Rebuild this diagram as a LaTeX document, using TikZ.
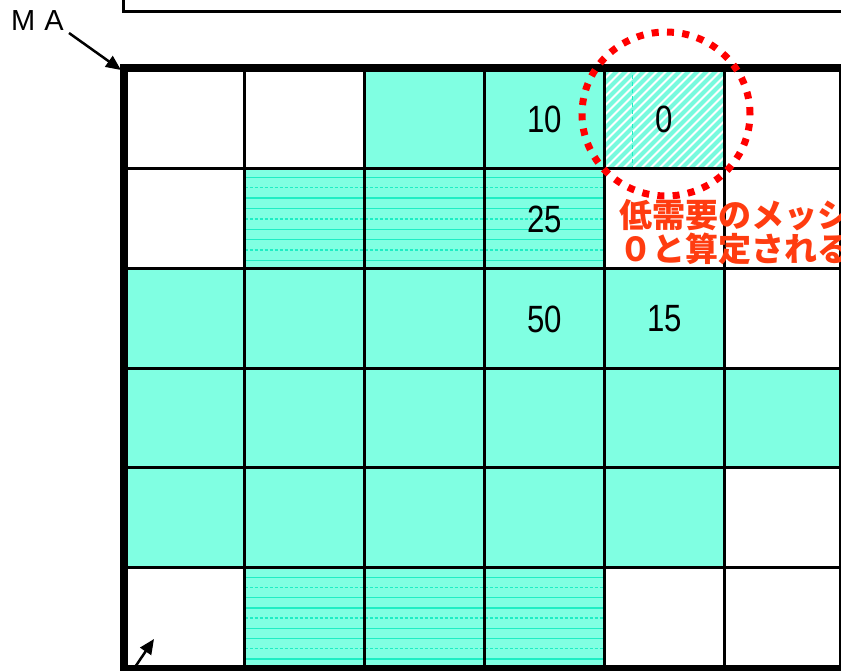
\documentclass[tikz,border=0pt]{standalone}
\usepackage{fontspec}
\newfontfamily\lsans{Liberation Sans}
\newfontfamily\cjkfont{Noto Sans CJK JP}
\usetikzlibrary{arrows.meta}
\definecolor{aqua}{RGB}{128,255,226}
\definecolor{aqualine}{RGB}{30,238,196}
\definecolor{hatchcol}{RGB}{120,250,222}
\definecolor{dotred}{RGB}{255,0,0}
\definecolor{txtred}{RGB}{255,60,16}
\newcommand\numtxt[1]{\scalebox{0.82}[1]{#1}}
\begin{document}
\begin{tikzpicture}[x=1pt,y=-1pt,
  stripe/.style={draw=aqualine,line width=1.4pt},
  stripedash/.style={stripe,dash pattern=on 3pt off 2pt},
  gridline/.style={line width=3pt},
  frameline/.style={line width=8pt},
  num/.style={font=\lsans\fontsize{38}{40}\selectfont, inner sep=0},
  note/.style={text=txtred, font=\cjkfont\bfseries\fontsize{33}{34}\selectfont, anchor=base west, inner sep=0},
  arr/.style={line width=2.5pt, -{Triangle[length=15pt,width=13pt]}},
]
\useasboundingbox (0,0) rectangle (841,670);
\clip (0,0) rectangle (841,670);
\fill[white] (0,0) rectangle (841,670);

% cell fills
\fill[aqua] (364,68) rectangle (604.5,168.3);
\fill[aqua] (244.5,168.3) rectangle (604.5,268.3);
\fill[aqua] (124,268.3) rectangle (724.5,567.3);
\fill[aqua] (724.5,368.3) rectangle (843,467.7);
\fill[aqua] (244.5,567.3) rectangle (604.5,669);

% horizontal stripes in the striped cells
\foreach \i in {0,2,3,5,6,8}{
  \draw[stripe] (244.5,{177.3+10.4*\i}) -- (604.5,{177.3+10.4*\i});
  \draw[stripe] (244.5,{577.3+10.2*\i}) -- (604.5,{577.3+10.2*\i});
}
\foreach \i in {1,4,7}{
  \draw[stripedash] (244.5,{177.3+10.4*\i}) -- (604.5,{177.3+10.4*\i});
  \draw[stripedash] (244.5,{577.3+10.2*\i}) -- (604.5,{577.3+10.2*\i});
}

% hatched cell
\begin{scope}
  \clip (604.5,68) rectangle (724.5,168.3);
  \foreach \x in {480,489,...,740}
    \draw[hatchcol, line width=4.2pt] (\x,172) -- ({\x+108},64);
  \draw[aqualine, line width=0.6pt, dash pattern=on 4pt off 3pt] (632,68) -- (632,168.3);
\end{scope}

% grid
\foreach \x in {244.5,364,484.5,604.5,724.5}
  \draw[gridline] (\x,68) -- (\x,669);
\foreach \y in {168.3,268.3,368.3,467.7,567.3}
  \draw[gridline] (124,\y) -- (843,\y);
\draw[frameline] (124,68) rectangle (843,669);

% top rectangle
\draw[line width=3pt] (123,-20) rectangle (900,11);

% values
\node[num] (v10) at (544.5,119) {\numtxt{10}};
\node[num] (v0)  at (664.5,119) {\numtxt{0}};
\node[num] (v25) at (544.5,219) {\numtxt{25}};
\node[num] (v50) at (544.5,319) {\numtxt{50}};
\node[num] (v15) at (664.5,319) {\numtxt{15}};

% MA label and arrows
\node[anchor=base west, inner sep=0, font=\lsans\fontsize{29}{30}\selectfont] (ma) at (11,30.5) {M\hspace{9pt}A};
\coordinate (mastart) at (69,33);
\coordinate (tl) at (121,70);
\draw[arr] (mastart) -- (tl);
\coordinate (bstart) at (131,673);
\coordinate (btip) at (154,639);
\draw[arr] (bstart) -- (btip);

% red dotted circle
\draw[dotred, line width=7pt, dash pattern=on 7pt off 8.3pt] (666,114) ellipse [x radius=84pt, y radius=82pt];

% note
\node[note] (note1) at (619,227) {低需要のメッシ};
\node[note] (note2) at (619,261) {０と算定される};
\end{tikzpicture}
\end{document}
